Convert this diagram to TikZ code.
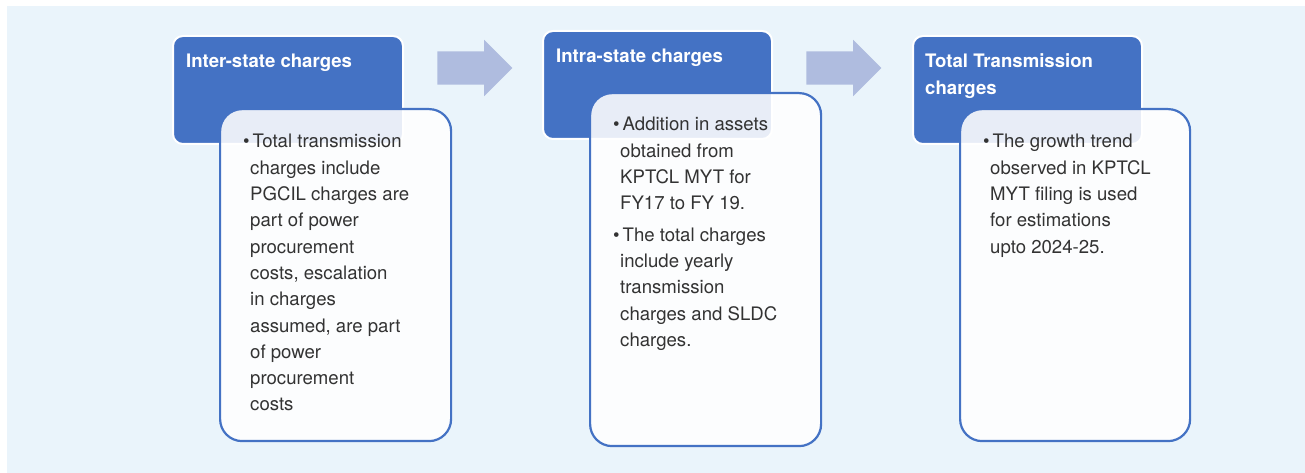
\documentclass[tikz,border=0pt]{standalone}
\usepackage{fontspec}
\setmainfont{TeX Gyre Heros}
\usetikzlibrary{shapes.arrows, positioning, calc}

\definecolor{bgblue}{HTML}{EAF4FB}
\definecolor{hdblue}{HTML}{4472C4}
\definecolor{arrblue}{HTML}{AFBCDF}
\definecolor{txtgray}{HTML}{333333}

\newcommand{\bodyfont}{\fontsize{18.6}{26.3}\selectfont}
\newcommand{\bul}{\textbullet}

\begin{document}
\begin{tikzpicture}[
    x=1pt, y=1pt,
    headbox/.style={rectangle, draw=white, line width=2pt, fill=hdblue, rounded corners=10pt, anchor=north west, minimum width=230pt, minimum height=108pt, inner sep=0pt},
    bodybox/.style={rectangle, draw=hdblue, line width=2.2pt, fill=white, fill opacity=0.88, rounded corners=22pt, anchor=north west, minimum width=231pt, inner sep=0pt},
    headtext/.style={anchor=base west, inner sep=0pt, text=white, font=\bodyfont\bfseries},
    bodytext/.style={anchor=base west, inner sep=0pt, text=txtgray, font=\bodyfont},
    flowarrow/.style={single arrow, fill=arrblue, draw=none, inner xsep=0pt, inner ysep=16.5pt, single arrow head extend=11.5pt, minimum height=75pt}
]

\useasboundingbox (0,0) rectangle (1305,473);
\fill [bgblue] (7,0) rectangle (1305,467);

% arrows between the stages
\node [flowarrow] (arrow1) at (466.5,405) {};
\node [flowarrow] (arrow2) at (835.5,405) {};

% stage 1
\node [headbox] (head1) at (172,438) {};
\node [headtext] (head1txt) at ([xshift=14pt, yshift=-33pt]head1.north west) {Inter-state charges};
\node [bodybox, minimum height=332pt] (body1) at (219,365) {};
\node [bodytext] (body1txt) at ([xshift=24pt, yshift=-40pt]body1.north west) {%
\begin{tabular}[t]{@{}p{7pt}@{}l@{}}
\bul & \hspace{2.5pt}Total transmission\\
 & charges include\\
 & PGCIL charges are\\
 & part of power\\
 & procurement\\
 & costs, escalation\\
 & in charges\\
 & assumed, are part\\
 & of power\\
 & procurement\\
 & costs
\end{tabular}};

% stage 2
\node [headbox, minimum width=229pt] (head2) at (542,443) {};
\node [headtext] (head2txt) at ([xshift=14pt, yshift=-33pt]head2.north west) {Intra-state charges};
\node [bodybox, minimum height=353pt] (body2) at (589,381) {};
\node [bodytext] (body2txt) at ([xshift=24pt, yshift=-39pt]body2.north west) {%
\begin{tabular}[t]{@{}p{7pt}@{}l@{}}
\bul & \hspace{2.5pt}Addition in assets\\
 & obtained from\\
 & KPTCL MYT for\\
 & FY17 to FY 19.\\[5pt]
\bul & \hspace{2.5pt}The total charges\\
 & include yearly\\
 & transmission\\
 & charges and SLDC\\
 & charges.
\end{tabular}};

% stage 3
\node [headbox, minimum width=229pt] (head3) at (912,438) {};
\node [headtext] (head3txt) at ([xshift=13pt, yshift=-33pt]head3.north west) {%
\begin{tabular}[t]{@{}l@{}}Total Transmission\\charges\end{tabular}};
\node [bodybox, minimum width=230pt, minimum height=332pt] (body3) at (959,365) {};
\node [bodytext] (body3txt) at ([xshift=24pt, yshift=-40pt]body3.north west) {%
\begin{tabular}[t]{@{}p{7pt}@{}l@{}}
\bul & \hspace{2.5pt}The growth trend\\
 & observed in KPTCL\\
 & MYT filing is used\\
 & for estimations\\
 & upto 2024-25.
\end{tabular}};

\end{tikzpicture}
\end{document}
